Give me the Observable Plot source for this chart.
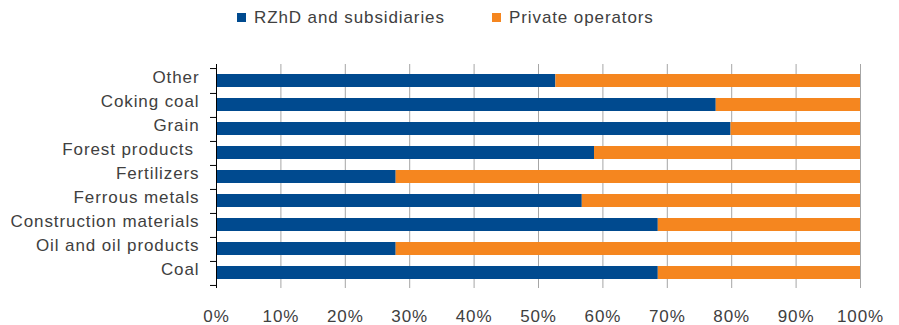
<!DOCTYPE html>
<html><head><meta charset="utf-8">
<script src="https://cdn.jsdelivr.net/npm/d3@7"></script>
<script src="https://cdn.jsdelivr.net/npm/@observablehq/plot@0.6"></script>
<style>
body{margin:0;background:#fff;font-family:"Liberation Sans",Arial,sans-serif;}
#wrap{position:relative;width:899px;height:325px;overflow:hidden}
#legend{position:relative;height:40px;}
#chart svg{display:block}
.sw{position:absolute;width:9px;height:9px;top:13px}
.lt{position:absolute;top:8px;font-size:17px;line-height:20px;color:#404040;letter-spacing:0.9px;white-space:pre}
</style></head><body>
<div id="wrap"><div id="legend"></div><div id="chart"></div></div>
<script>
const categories = ["Other","Coking coal","Grain","Forest products\u00a0","Fertilizers","Ferrous metals","Construction materials","Oil and oil products","Coal"];
const series = ["RZhD and subsidiaries","Private operators"];
const colors = ["#004a8f","#f5861f"];
const rzhd = [52.7, 77.6, 79.9, 58.7, 27.9, 56.8, 68.6, 27.9, 68.6];
const privateOps = [47.3, 22.4, 20.1, 41.3, 72.1, 43.2, 31.4, 72.1, 31.4];
const xTicks = [0,10,20,30,40,50,60,70,80,90,100];

const data = [];
categories.forEach((c,i)=>{
  data.push({category:c, series:series[0], value:rzhd[i]});
  data.push({category:c, series:series[1], value:privateOps[i]});
});

// legend
const legend = document.getElementById("legend");
const legendPos = [[237,254],[492,509]];
series.forEach((s,i)=>{
  const sw = document.createElement("div");
  sw.className="sw"; sw.style.left=legendPos[i][0]+"px"; sw.style.background=colors[i];
  legend.appendChild(sw);
  const t = document.createElement("div");
  t.className="lt"; t.style.left=legendPos[i][1]+"px"; t.textContent=s;
  legend.appendChild(t);
});

const H = 285, mT = 24, mB = 37;
const step = (H - mT - mB) / categories.length;

const chart = Plot.plot({
  width: 899, height: H,
  marginLeft: 216, marginRight: 39, marginTop: mT, marginBottom: mB,
  style: {fontFamily: '"Liberation Sans", Arial, sans-serif', letterSpacing: "0.9px", background: "#fff"},
  x: {domain: [0,100], label: null},
  y: {domain: categories, paddingInner: 0.47, paddingOuter: 0.235, label: null},
  color: {domain: series, range: colors},
  marks: [
    Plot.ruleX(xTicks.filter(d => d > 0), {stroke: "#a6a6a6", strokeWidth: 1}),
    Plot.barX(data, {x: "value", y: "category", fill: "series", order: series}),
    Plot.ruleX([0], {stroke: "#000"}),
    Plot.axisY({tickSize: 6, tickFormat: () => "", stroke: "#000", strokeOpacity: 1, dy: step/2}),
    Plot.axisY({ticks: [categories[0]], tickSize: 6, tickFormat: () => "", stroke: "#000", strokeOpacity: 1, dy: -step/2}),
    Plot.axisY({tickSize: 0, tickPadding: 17, fontSize: 17, fill: "#404040", label: null, dy: -3}),
    Plot.axisX({ticks: xTicks, tickSize: 0, tickPadding: 21, tickFormat: d => d + "%", fontSize: 17, fill: "#404040", label: null})
  ]
});
document.getElementById("chart").appendChild(chart);
</script>
</body></html>
